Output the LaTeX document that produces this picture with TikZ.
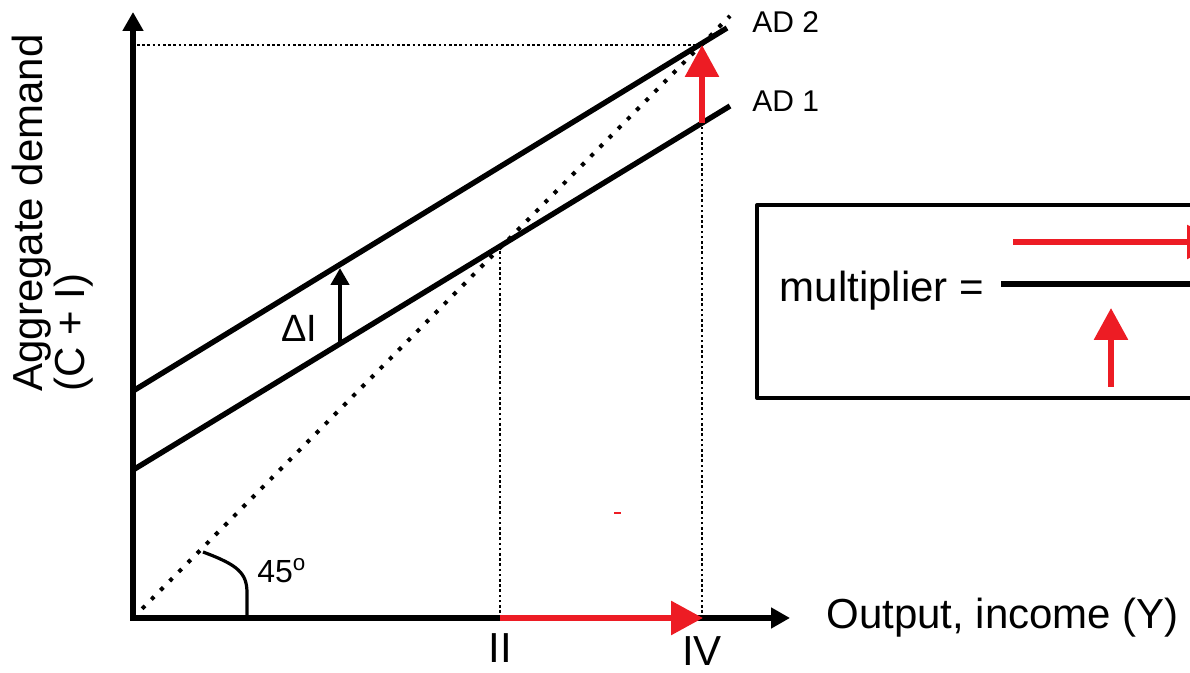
\documentclass[tikz,border=0pt]{standalone}
\usepackage{fontspec}
\setmainfont{Liberation Sans}
\usetikzlibrary{arrows.meta}
\definecolor{signalrot}{HTML}{ED1C24}
\tikzset{
  achse/.style={line width=2.7pt, -{Triangle[length=9.5pt,width=10pt]}},
  kurve/.style={line width=2.7pt, line cap=butt},
  punktiert/.style={line width=1.3pt, dash pattern=on 1.3pt off 1.3pt},
  rotpfeil/.style={signalrot, line width=3pt, -{Triangle[length=16pt,width=16.5pt]}},
  grosstext/.style={font=\fontsize{21}{21}\selectfont, inner sep=0pt},
  kleintext/.style={font=\fontsize{15}{15}\selectfont, inner sep=0pt},
}
\begin{document}
\begin{tikzpicture}[x=0.5pt, y=0.5pt, line join=round]
  \useasboundingbox (0,0) rectangle (1190,673);
  \clip (0,0) rectangle (1190,673);
  % Eckpunkte
  \coordinate (O) at (133,55);
  \coordinate (ytop) at (133,661);
  \coordinate (xend) at (790,55);
  \coordinate (ad1a) at (133,203);
  \coordinate (ad1b) at (730,567);
  \coordinate (ad2a) at (133,282);
  \coordinate (ad2b) at (727,645);
  \coordinate (yII) at (500,55);
  \coordinate (yIV) at (702,55);
  % Hilfslinien
  \draw[punktiert] (yII) -- (500,427);
  \draw[punktiert] (yIV) -- (702,550);
  \draw[punktiert] (137,628) -- (700,628);
  \draw[line width=2pt, dash pattern=on 2pt off 4.5pt] (O) -- (730,657);
  % 45-Grad-Bogen
  \draw[line width=1.6pt] (203,121) .. controls (238,108) and (247,100) .. (247,80) -- (247,55);
  \node[font=\fontsize{16}{16}\selectfont, anchor=base west, inner sep=0pt] (winkel) at (257,90) {45\textsuperscript{o}};
  % Achsen
  \draw[achse] (133,52) -- (ytop);
  \draw[achse] (131,55) -- (xend);
  % Nachfragekurven
  \draw[kurve] (ad1a) -- (ad1b);
  \draw[kurve] (ad2a) -- (ad2b);
  \node[kleintext, anchor=west] (ad2) at (752,651) {AD 2};
  \node[kleintext, anchor=west] (ad1) at (752,572) {AD 1};
  % Investitionszuwachs
  \draw[line width=2.2pt, -{Triangle[length=8.5pt,width=9pt]}] (340,331) -- (340,405);
  \node[font=\fontsize{19}{19}\selectfont, inner sep=0pt] (dI) at (299,345) {ΔI};
  % rote Pfeile
  \draw[rotpfeil] (yII) -- (703,55);
  \draw[rotpfeil] (702,550) -- (702,628);
  \fill[signalrot] (613.5,159) rectangle (620.5,161);
  % Beschriftung
  \node[grosstext, rotate=90, anchor=north west, align=left] (ylabel) at (12,281) {Aggregate demand\\(C + I)};
  \node[grosstext, anchor=west] (xlabel) at (826,55) {Output, income (Y)};
  \node[grosstext] (II) at (500,25) {II};
  \node[grosstext] (IV) at (702,22) {IV};
  % Multiplikator-Kasten
  \draw[line width=2pt] (757,275) rectangle (1240,468);
  \node[grosstext, anchor=base] (mult) at (882,371) {multiplier =};
  \draw[line width=3.4pt] (1001,389) -- (1240,389);
  \draw[rotpfeil] (1013,431) -- (1219,431);
  \draw[rotpfeil] (1111,286) -- (1111,365);
\end{tikzpicture}
\end{document}
